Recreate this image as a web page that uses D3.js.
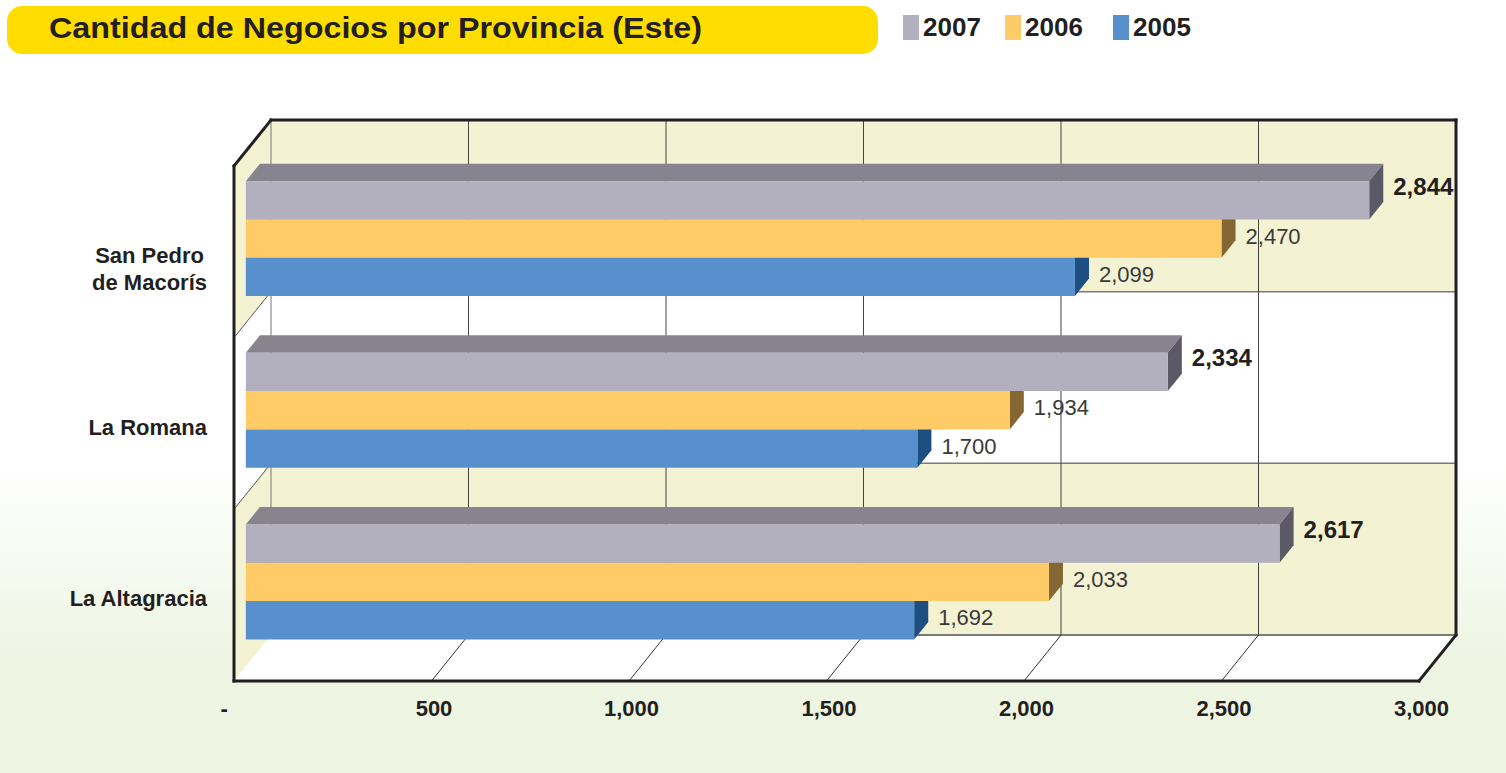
<!DOCTYPE html>
<html>
<head>
<meta charset="utf-8">
<script src="https://cdn.jsdelivr.net/npm/d3@7"></script>
<style>
  html, body { margin: 0; padding: 0; background: #fff; }
  svg { display: block; }
  text { font-family: "Liberation Sans", Arial, Helvetica, sans-serif; }
</style>
</head>
<body>
<svg id="chart" width="1506" height="773"></svg>
<script>
// ---- data ----
const title = "Cantidad de Negocios por Provincia (Este)";
const categories = [["San Pedro", "de Macorís"], ["La Romana"], ["La Altagracia"]];
const series = ["2007", "2006", "2005"];
const values2007 = [2844, 2334, 2617];
const values2006 = [2470, 1934, 2033];
const values2005 = [2099, 1700, 1692];
const xTicks = [0, 500, 1000, 1500, 2000, 2500, 3000];

const valuesBySeries = { "2007": values2007, "2006": values2006, "2005": values2005 };
const colors = {
  "2007": { front: "#B2AFBE", top: "#87848F", side: "#5B5966" },
  "2006": { front: "#FECB67", top: "#C9A050", side: "#856733" },
  "2005": { front: "#588FCD", top: "#3E6FA8", side: "#1E4F83" }
};

const svg = d3.select("#chart");
const W = 1506, H = 773;

// background gradient
const defs = svg.append("defs");
const bg = defs.append("linearGradient").attr("id", "bg").attr("x1", 0).attr("y1", 0).attr("x2", 0).attr("y2", 1);
bg.append("stop").attr("offset", "0.6").attr("stop-color", "#ffffff");
bg.append("stop").attr("offset", "0.85").attr("stop-color", "#EEF5E3");
bg.append("stop").attr("offset", "1").attr("stop-color", "#EDF4E1");
svg.append("rect").attr("width", W).attr("height", H).attr("fill", "url(#bg)");

// ---- geometry ----
const front = { x0: 234, y0: 166, y1: 681 };
const depth = { dx: 37, dy: -46 };
const x = d3.scaleLinear().domain([0, 3000]).range([front.x0, front.x0 + 1185]);
const catKeys = categories.map(c => c.join(" "));
const y = d3.scaleBand().domain(catKeys).range([front.y0, front.y1]).padding(0);
const ySeries = d3.scaleBand().domain(series).range([0, y.bandwidth()]).paddingInner(0).paddingOuter(0.74);
const barShift = 1.5;

const P = (xs, ys, t) => [xs + depth.dx * t, ys + depth.dy * t];
const poly = pts => "M" + pts.map(p => p.join(",")).join("L") + "Z";

const gWalls = svg.append("g");
const xL = x(0), xR = x(3000);

// back wall bands and left wall bands
catKeys.forEach((k, i) => {
  const yt = y(k), yb = y(k) + y.bandwidth();
  const fill = i === 1 ? "#ffffff" : "#F3F2D3";
  gWalls.append("path").attr("d", poly([P(xL, yt, 1), P(xR, yt, 1), P(xR, yb, 1), P(xL, yb, 1)])).attr("fill", fill);
  gWalls.append("path").attr("d", poly([P(xL, yt, 0), P(xL, yt, 1), P(xL, yb, 1), P(xL, yb, 0)])).attr("fill", fill);
});
// floor
gWalls.append("path").attr("d", poly([P(xL, front.y1, 0), P(xR, front.y1, 0), P(xR, front.y1, 1), P(xL, front.y1, 1)])).attr("fill", "#ffffff");

// band boundary lines
catKeys.slice(1).forEach(k => {
  const yy = y(k);
  gWalls.append("path").attr("d", "M" + P(xL, yy, 1).join(",") + "L" + P(xR, yy, 1).join(","))
    .attr("stroke", "#7a7a78").attr("stroke-width", 1.5).attr("fill", "none");
  gWalls.append("path").attr("d", "M" + P(xL, yy, 0).join(",") + "L" + P(xL, yy, 1).join(","))
    .attr("stroke", "#555").attr("stroke-width", 1).attr("fill", "none");
});
// back wall bottom line
gWalls.append("path").attr("d", "M" + P(xL, front.y1, 1).join(",") + "L" + P(xR, front.y1, 1).join(","))
  .attr("stroke", "#7a7a78").attr("stroke-width", 2).attr("fill", "none");

// vertical gridlines on back wall + floor diagonals
xTicks.forEach(v => {
  const xs = x(v);
  if (v < 3000) {
    gWalls.append("path").attr("d", "M" + P(xs, front.y0, 1).join(",") + "L" + P(xs, front.y1, 1).join(","))
      .attr("stroke", v === 0 ? "#8a8a88" : "#444").attr("stroke-width", v === 0 ? 1.2 : 1).attr("fill", "none");
  }
  if (v > 0 && v < 3000) {
    gWalls.append("path").attr("d", "M" + P(xs, front.y1, 0).join(",") + "L" + P(xs, front.y1, 1).join(","))
      .attr("stroke", "#333").attr("stroke-width", 1).attr("fill", "none");
  }
});

// thick frame lines
const frame = (a, b) => gWalls.append("path").attr("d", "M" + a.join(",") + "L" + b.join(","))
  .attr("stroke", "#231F20").attr("stroke-width", 3).attr("fill", "none").attr("stroke-linecap", "square");
frame(P(xL, front.y0, 1), P(xR, front.y0, 1));
frame(P(xR, front.y0, 1), P(xR, front.y1, 1));
frame(P(xL, front.y0, 0), P(xL, front.y1, 0));
frame(P(xL, front.y0, 0), P(xL, front.y0, 1));
frame(P(xL, front.y1, 0), P(xR, front.y1, 0));
frame(P(xR, front.y1, 0), P(xR, front.y1, 1));

// ---- bars ----
const t0 = 0.32, t1 = 0.70;
const gBars = svg.append("g");
const drawOrder = ["2005", "2006", "2007"];
catKeys.forEach((k, ci) => {
  drawOrder.forEach(s => {
    const v = valuesBySeries[s][ci];
    const yt = y(k) + ySeries(s) + barShift, yb = yt + ySeries.bandwidth();
    const xa = x(0), xb = x(v);
    const c = colors[s];
    gBars.append("path").attr("d", poly([P(xa, yt, t0), P(xb, yt, t0), P(xb, yt, t1), P(xa, yt, t1)])).attr("fill", c.top);
    gBars.append("path").attr("d", poly([P(xb, yt, t0), P(xb, yt, t1), P(xb, yb, t1), P(xb, yb, t0)])).attr("fill", c.side);
    gBars.append("path").attr("d", poly([P(xa, yt, t0), P(xb, yt, t0), P(xb, yb, t0), P(xa, yb, t0)])).attr("fill", c.front);
  });
});

// value labels
const fmt = d3.format(",");
const gLabels = svg.append("g");
catKeys.forEach((k, ci) => {
  series.forEach(s => {
    const v = valuesBySeries[s][ci];
    const yt = y(k) + ySeries(s) + barShift, yb = yt + ySeries.bandwidth();
    const cFront = P(x(v), (yt + yb) / 2, t0);   // centre of the front face's right edge
    const pSide = P(x(v), (yt + yb) / 2, t1);
    const bold = s === "2007";
    gLabels.append("text")
      .attr("x", pSide[0] + 10)
      .attr("y", bold ? cFront[1] - 5.5 : cFront[1] + 5)
      .attr("font-size", bold ? 24 : 22)
      .attr("font-weight", bold ? "bold" : "normal")
      .attr("fill", bold ? "#231F20" : "#3a3a3a")
      .text(fmt(v));
  });
});

// category labels
const gCats = svg.append("g");
categories.forEach((lines, i) => {
  const k = catKeys[i];
  const cy = y(k) + y.bandwidth() / 2;
  const t = gCats.append("text").attr("font-size", 22).attr("font-weight", "bold").attr("fill", "#231F20");
  lines.forEach((ln, j) => {
    t.append("tspan").attr("y", cy + 11 + j * 27).text(ln);
  });
  const tsp = t.selectAll("tspan").nodes();
  const maxW = d3.max(tsp, n => n.getComputedTextLength());
  if (lines.length > 1) {
    t.attr("text-anchor", "middle");
    t.selectAll("tspan").attr("x", 207 - maxW / 2);
  } else {
    t.attr("text-anchor", "end");
    t.selectAll("tspan").attr("x", 207);
  }
});

// x axis
const axis = d3.axisBottom(x).tickValues(xTicks).tickSize(0).tickPadding(19)
  .tickFormat(v => v === 0 ? "-\u00a0\u00a0\u00a0\u00a0" : fmt(v));
const gAxis = svg.append("g").attr("transform", `translate(2,${front.y1})`).call(axis);
gAxis.select(".domain").remove();
gAxis.selectAll("text").attr("font-size", 22).attr("font-weight", "bold").attr("fill", "#231F20")
  .attr("font-family", "'Liberation Sans', Arial, sans-serif");

// title
svg.append("rect").attr("x", 7).attr("y", 6).attr("width", 871).attr("height", 48).attr("rx", 15).attr("fill", "#FFDD00");
svg.append("text").attr("x", 49).attr("y", 38).attr("font-size", 30).attr("font-weight", "bold")
  .attr("fill", "#231F20").attr("textLength", 653).attr("lengthAdjust", "spacingAndGlyphs").text(title);

// legend
const legendX = [903, 1005, 1113];
const gLeg = svg.append("g");
series.forEach((s, i) => {
  gLeg.append("rect").attr("x", legendX[i]).attr("y", 15).attr("width", 16).attr("height", 25).attr("fill", colors[s].front);
  gLeg.append("text").attr("x", legendX[i] + 20).attr("y", 36).attr("font-size", 26).attr("font-weight", "bold")
    .attr("fill", "#231F20").text(s);
});
</script>
</body>
</html>
